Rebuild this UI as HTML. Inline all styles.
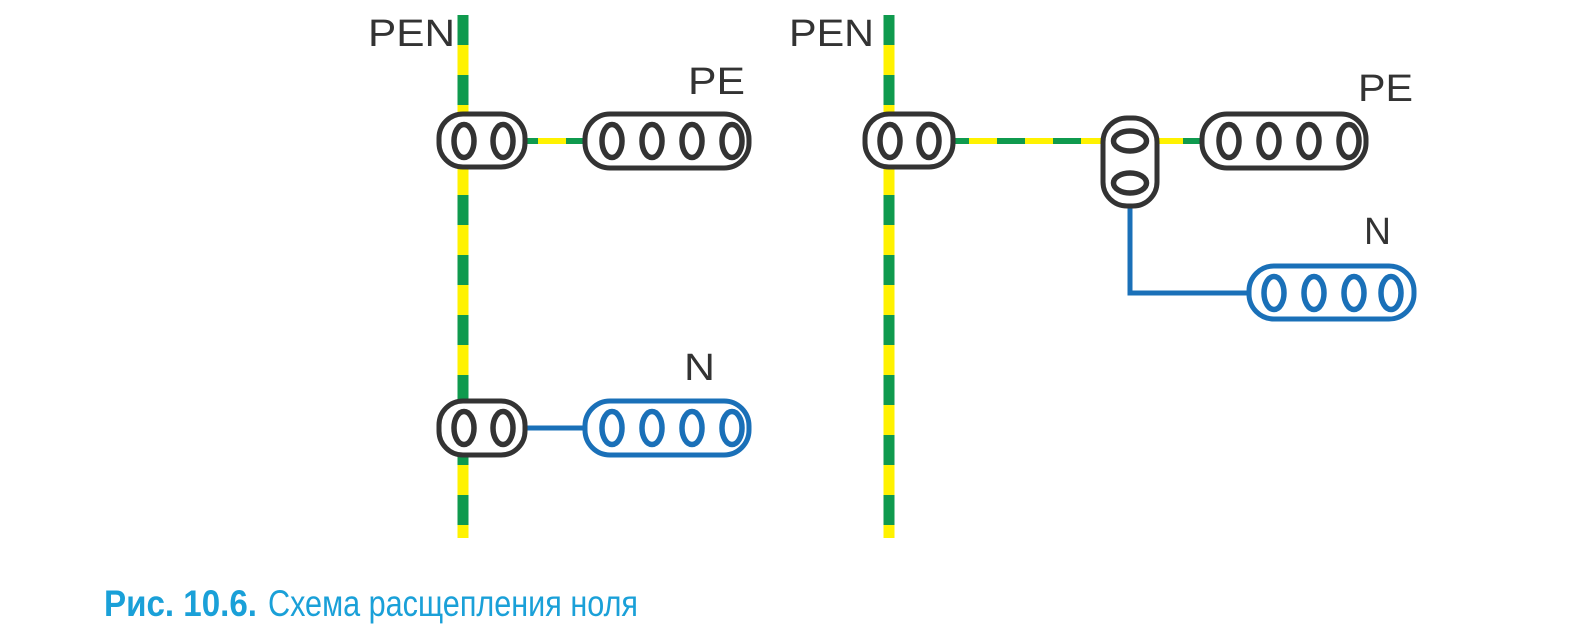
<!DOCTYPE html>
<html><head><meta charset="utf-8"><style>
html,body{margin:0;padding:0;background:#fff;}
svg{display:block;}
.h{stroke-width:5.5}
</style></head><body>
<svg width="1574" height="632" viewBox="0 0 1574 632" xmlns="http://www.w3.org/2000/svg">
<g fill="none">
<line x1="463" y1="15" x2="463" y2="538" stroke="#fff200" stroke-width="11"/>
<line x1="463" y1="15" x2="463" y2="538" stroke="#0f9a4e" stroke-width="11" stroke-dasharray="30 30"/>
<line x1="525" y1="141" x2="585" y2="141" stroke="#0f9a4e" stroke-width="6"/>
<line x1="538" y1="141" x2="566" y2="141" stroke="#fff200" stroke-width="6"/>
<line x1="525" y1="428" x2="585" y2="428" stroke="#1a70b8" stroke-width="5"/>
<line x1="889" y1="15" x2="889" y2="538" stroke="#fff200" stroke-width="11"/>
<line x1="889" y1="15" x2="889" y2="538" stroke="#0f9a4e" stroke-width="11" stroke-dasharray="30 30"/>
<line x1="955" y1="141" x2="1104" y2="141" stroke="#fff200" stroke-width="6"/>
<line x1="955" y1="141" x2="1104" y2="141" stroke="#0f9a4e" stroke-width="6" stroke-dasharray="28 28" stroke-dashoffset="14"/>
<line x1="1155" y1="141" x2="1202" y2="141" stroke="#0f9a4e" stroke-width="6"/>
<line x1="1158" y1="141" x2="1183" y2="141" stroke="#fff200" stroke-width="6"/>
<polyline points="1130,205 1130,293 1250,293" stroke="#1a70b8" stroke-width="5"/>

<g stroke="#333" stroke-width="5" fill="#fff">
<rect x="439" y="114" width="86" height="53" rx="24"/>
<ellipse class="h" cx="464" cy="141" rx="10" ry="16.5"/>
<ellipse class="h" cx="503" cy="141" rx="10" ry="16.5"/>
<rect x="439" y="401" width="86" height="54" rx="24"/>
<ellipse class="h" cx="464" cy="428" rx="10" ry="16.5"/>
<ellipse class="h" cx="503" cy="428" rx="10" ry="16.5"/>
<rect x="585" y="114" width="164" height="54" rx="25"/>
<ellipse class="h" cx="612" cy="141" rx="10" ry="16.5"/>
<ellipse class="h" cx="652" cy="141" rx="10" ry="16.5"/>
<ellipse class="h" cx="692" cy="141" rx="10" ry="16.5"/>
<ellipse class="h" cx="732" cy="141" rx="10" ry="16.5"/>
<rect x="865" y="114" width="88" height="53" rx="24"/>
<ellipse class="h" cx="890" cy="141" rx="10" ry="16.5"/>
<ellipse class="h" cx="929" cy="141" rx="10" ry="16.5"/>
<rect x="1103" y="118" width="54" height="88" rx="24"/>
<ellipse class="h" cx="1130" cy="141" rx="16.5" ry="10"/>
<ellipse class="h" cx="1130" cy="183" rx="16.5" ry="10"/>
<rect x="1202" y="114" width="164" height="54" rx="25"/>
<ellipse class="h" cx="1229" cy="141" rx="10" ry="16.5"/>
<ellipse class="h" cx="1269" cy="141" rx="10" ry="16.5"/>
<ellipse class="h" cx="1309" cy="141" rx="10" ry="16.5"/>
<ellipse class="h" cx="1349" cy="141" rx="10" ry="16.5"/>
</g>
<g stroke="#1a70b8" stroke-width="5" fill="#fff">
<rect x="585" y="401" width="164" height="54" rx="25"/>
<ellipse class="h" cx="612" cy="428" rx="10" ry="16.5"/>
<ellipse class="h" cx="652" cy="428" rx="10" ry="16.5"/>
<ellipse class="h" cx="692" cy="428" rx="10" ry="16.5"/>
<ellipse class="h" cx="732" cy="428" rx="10" ry="16.5"/>
<rect x="1249" y="266" width="165" height="53" rx="25"/>
<ellipse class="h" cx="1274" cy="293" rx="10" ry="16.5"/>
<ellipse class="h" cx="1314" cy="293" rx="10" ry="16.5"/>
<ellipse class="h" cx="1354" cy="293" rx="10" ry="16.5"/>
<ellipse class="h" cx="1391" cy="293" rx="10" ry="16.5"/>
</g>
</g>
<g font-family="Liberation Sans, sans-serif" font-size="38" fill="#333">
<text x="368" y="46" textLength="87" lengthAdjust="spacingAndGlyphs">PEN</text>
<text x="688" y="94" textLength="57" lengthAdjust="spacingAndGlyphs">PE</text>
<text x="684" y="380" textLength="31" lengthAdjust="spacingAndGlyphs">N</text>
<text x="789" y="46" textLength="85" lengthAdjust="spacingAndGlyphs">PEN</text>
<text x="1358" y="101" textLength="55" lengthAdjust="spacingAndGlyphs">PE</text>
<text x="1364" y="244" textLength="27" lengthAdjust="spacingAndGlyphs">N</text>
</g>
<g font-family="Liberation Sans Narrow, Liberation Sans, sans-serif" font-size="37" fill="#1aa0d8">
<text x="104" y="616" font-weight="bold" textLength="153" lengthAdjust="spacingAndGlyphs">Рис. 10.6.</text>
<text x="268" y="616" textLength="370" lengthAdjust="spacingAndGlyphs">Схема расщепления ноля</text>
</g>
</svg>
</body></html>
